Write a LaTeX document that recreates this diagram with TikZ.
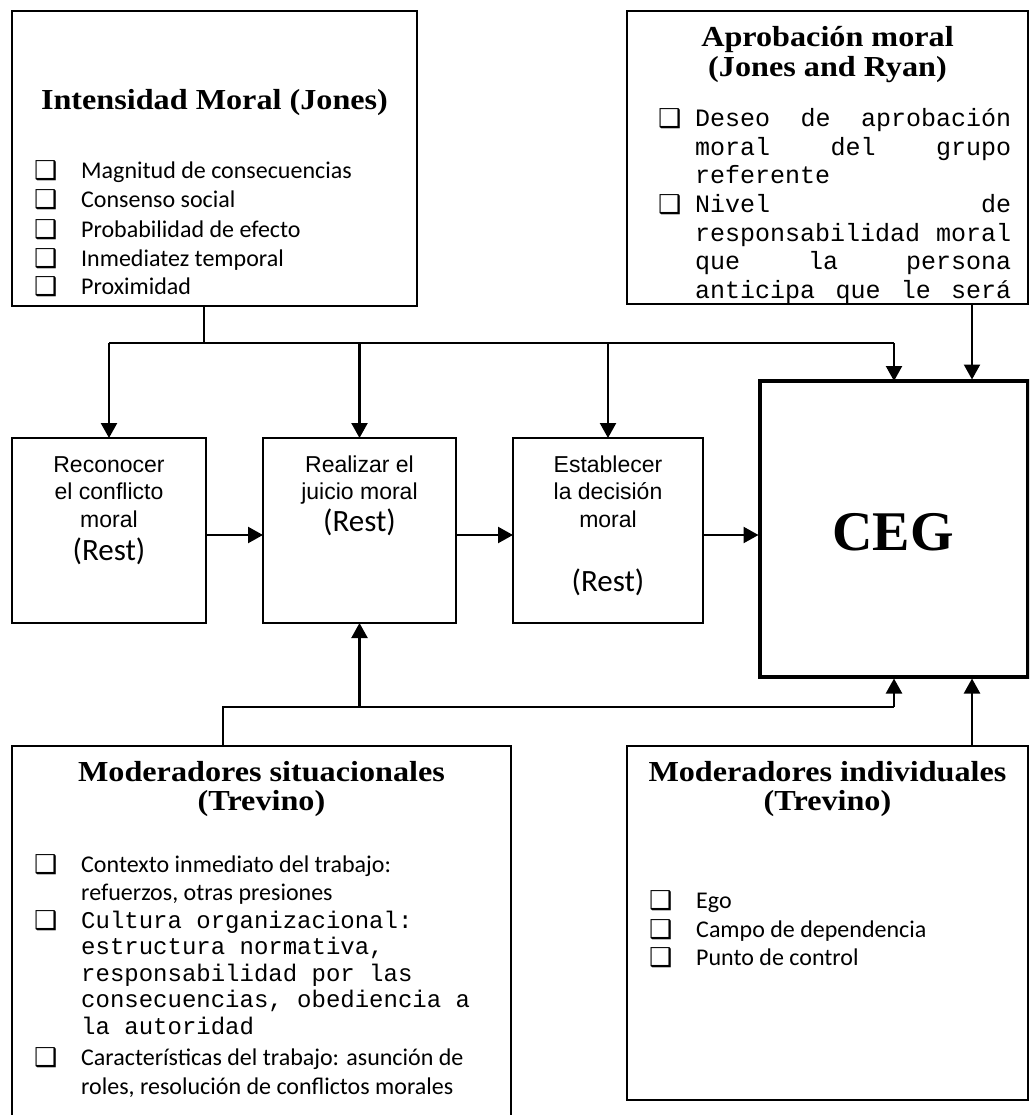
\documentclass[tikz,border=0pt]{standalone}
\usepackage{fontspec}
\setmainfont{Carlito}
\newfontfamily\ttlfont[FakeStretch=1.11]{Liberation Serif}
\newfontfamily\cegfont{Liberation Serif}
\newfontfamily\arialfont{Liberation Sans}
\newfontfamily\monofont{Liberation Mono}
\newfontfamily\symfont{DejaVu Sans}
\usetikzlibrary{arrows.meta}
\tikzset{
  box/.style={draw, line width=1.7pt, rectangle, inner sep=0pt, outer sep=0pt},
  bigbox/.style={draw, line width=3.2pt, rectangle, inner sep=0pt, outer sep=0pt},
  wire/.style={line width=1.5pt, line join=miter},
  arr/.style={line width=2.3pt, -{Triangle[length=15pt,width=16pt]}},
  ttl/.style={font=\ttlfont\bfseries\fontsize{29}{32}\selectfont, inner sep=0pt, anchor=base},
  cb/.style={font=\fontsize{24}{29}\selectfont, inner sep=0pt, anchor=base west},
  msA/.style={font=\monofont\fontsize{25}{28.5}\selectfont, inner sep=0pt, anchor=base west},
  msB/.style={font=\monofont\fontsize{24}{27}\selectfont, inner sep=0pt, anchor=base west},
  ar/.style={font=\arialfont\fontsize{23}{27.5}\selectfont, inner sep=0pt, anchor=base},
  rest/.style={font=\fontsize{31}{34}\selectfont, inner sep=0pt, anchor=base},
  bul/.style={font=\symfont\fontsize{26}{28}\selectfont, inner sep=0pt, anchor=base west},
}
\newcommand{\jline}[1]{\makebox[316pt][l]{#1}}
\begin{document}
\begin{tikzpicture}[x=1pt,y=-1pt]
\useasboundingbox (0,0) rectangle (1029,1115);
\clip (0,0) rectangle (1029,1115);

% ---------- boxes ----------
\node[box, minimum width=405pt, minimum height=295pt] (jones) at (214.5,158.5) {};
\node[box, minimum width=401pt, minimum height=293pt] (aprob) at (827.5,157.5) {};
\node[box, minimum width=194pt, minimum height=185pt] (rec) at (109,530.5) {};
\node[box, minimum width=193pt, minimum height=185pt] (jui) at (359.5,530.5) {};
\node[box, minimum width=190pt, minimum height=185pt] (dec) at (608,530.5) {};
\node[bigbox, minimum width=268pt, minimum height=296pt] (cegbox) at (894,529) {};
\node[box, minimum width=499pt, minimum height=384pt] (sit) at (261.5,938) {};
\node[box, minimum width=401pt, minimum height=354pt] (ind) at (827.5,923) {};

% ---------- top-left: Intensidad moral ----------
\node[ttl] (jt) at (214.5,110) {Intensidad Moral (Jones)};
\node[bul] (jb1) at (34,180) {❑};
\node[bul] (jb2) at (34,209) {❑};
\node[bul] (jb3) at (34,238) {❑};
\node[bul] (jb4) at (34,267) {❑};
\node[bul] (jb5) at (34,295) {❑};
\node[cb] (j1) at (81,179) {Magnitud de consecuencias};
\node[cb] (j2) at (81,208) {Consenso social};
\node[cb] (j3) at (81,237) {Probabilidad de efecto};
\node[cb] (j4) at (81,266) {Inmediatez temporal};
\node[cb] (j5) at (81,294) {Proximidad};

% ---------- top-right: Aprobacion moral ----------
\node[ttl] (at1) at (827.5,47) {Aprobación moral};
\node[ttl] (at2) at (827.5,77) {(Jones and Ryan)};
\begin{scope}
\clip (627,11) rectangle (1028,302.5);
\node[bul] (ab1) at (658,128) {❑};
\node[bul] (ab2) at (658,213.5) {❑};
\node[msA] (a1) at (695,127) {\jline{Deseo\hfill de\hfill aprobación}};
\node[msA] (a2) at (695,155.5) {\jline{moral\hfill del\hfill grupo}};
\node[msA] (a3) at (695,184) {referente};
\node[msA] (a4) at (695,212.5) {\jline{Nivel\hfill de}};
\node[msA] (a5) at (695,241) {\jline{responsabilidad\hfill moral}};
\node[msA] (a6) at (695,269.5) {\jline{que\hfill la\hfill persona}};
\node[msA] (a7) at (695,298) {\jline{anticipa\hfill que\hfill le\hfill será}};
\end{scope}

% ---------- middle boxes ----------
\node[ar] (r1) at (109,472) {Reconocer};
\node[ar] (r2) at (109,499.5) {el conflicto};
\node[ar] (r3) at (109,527) {moral};
\node[rest] (r4) at (109,560) {(Rest)};

\node[ar] (u1) at (359.5,472) {Realizar el};
\node[ar] (u2) at (359.5,499.5) {juicio moral};
\node[rest] (u3) at (359.5,531) {(Rest)};

\node[ar] (d1) at (608,472) {Establecer};
\node[ar] (d2) at (608,499.5) {la decisión};
\node[ar] (d3) at (608,527) {moral};
\node[rest] (d4) at (608,591) {(Rest)};

\node[font=\cegfont\bfseries\fontsize{56}{60}\selectfont, inner sep=0pt, anchor=base] (ceg) at (893,550) {CEG};

% ---------- bottom-left: Moderadores situacionales ----------
\node[ttl] (st1) at (261.5,781) {Moderadores situacionales};
\node[ttl] (st2) at (261.5,810) {(Trevino)};
\node[bul] (sb1) at (34,873) {❑};
\node[bul] (sb2) at (34,929) {❑};
\node[bul] (sb3) at (34,1066) {❑};
\node[cb] (s1) at (81,872) {Contexto inmediato del trabajo:};
\node[cb] (s2) at (81,900) {refuerzos, otras presiones};
\node[msB] (s3) at (81,928) {Cultura organizacional:};
\node[msB] (s4) at (81,954.5) {estructura normativa,};
\node[msB] (s5) at (81,981) {responsabilidad por las};
\node[msB] (s6) at (81,1007.5) {consecuencias, obediencia a};
\node[msB] (s7) at (81,1034) {la autoridad};
\node[cb] (s8) at (81,1065) {Características del trabajo: asunción de};
\node[cb] (s9) at (81,1094) {roles, resolución de conflictos morales};

% ---------- bottom-right: Moderadores individuales ----------
\node[ttl] (it1) at (827.5,781) {Moderadores individuales};
\node[ttl] (it2) at (827.5,810) {(Trevino)};
\node[bul] (ib1) at (649,909) {❑};
\node[bul] (ib2) at (649,938) {❑};
\node[bul] (ib3) at (649,966) {❑};
\node[cb] (i1) at (696,908) {Ego};
\node[cb] (i2) at (696,937) {Campo de dependencia};
\node[cb] (i3) at (696,965) {Punto de control};

% ---------- connectors ----------
\coordinate (bj) at (204,343);
\coordinate (ax) at (972,0);
\coordinate (hy) at (0,535);
\coordinate (bb) at (223,707);

\draw[wire] (jones.south -| bj) -- (bj);
\draw[wire] (rec.north |- bj) -- (cegbox.north |- bj);
\draw[arr] (rec.north |- bj) -- (rec.north);
\draw[arr] (jui.north |- bj) -- (jui.north);
\draw[arr] (dec.north |- bj) -- (dec.north);
\draw[arr] (cegbox.north |- bj) -- (cegbox.north);
\draw[arr] (aprob.south -| ax) -- ([yshift=1.5pt]cegbox.north -| ax);

\draw[arr] (rec.east |- hy) -- (jui.west |- hy);
\draw[arr] (jui.east |- hy) -- (dec.west |- hy);
\draw[arr] (dec.east |- hy) -- ([xshift=-1.5pt]cegbox.west |- hy);

\draw[wire] (sit.north -| bb) -- (bb) -- (cegbox.south |- bb);
\draw[arr] (cegbox.south |- bb) -- ([yshift=-1.5pt]cegbox.south);
\draw[arr] (jui.south |- bb) -- (jui.south);
\draw[arr] (ind.north -| ax) -- ([yshift=-1.5pt]cegbox.south -| ax);
\end{tikzpicture}
\end{document}
